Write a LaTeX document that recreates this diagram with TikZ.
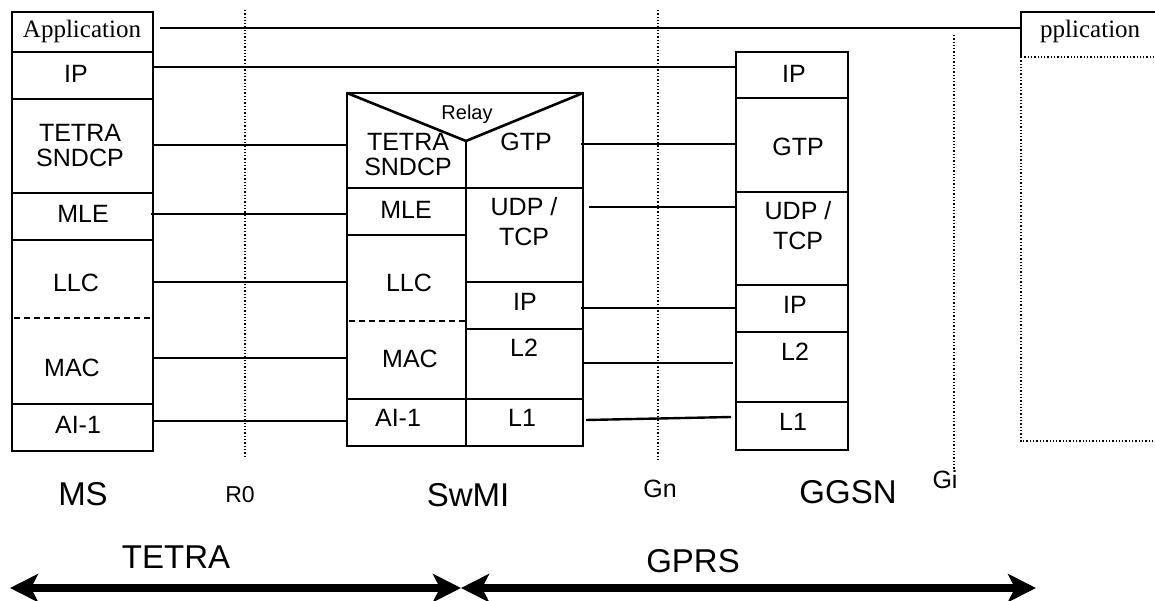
\documentclass[tikz,border=0pt]{standalone}
\usepackage{fontspec}
\setmainfont{Liberation Sans}
\newfontfamily\seriffam{Liberation Serif}
\usetikzlibrary{arrows.meta}
\begin{document}
\begin{tikzpicture}[x=1pt,y=-1pt,
  box/.style={line width=2.6pt},
  sep/.style={line width=2.2pt},
  dsep/.style={dashed, dash pattern=on 6pt off 4pt, line width=1.6pt},
  conn/.style={line width=1.5pt},
  tconn/.style={line width=2.4pt},
  refline/.style={dotted, line width=1.3pt},
  lay/.style={inner sep=0pt, align=center, font=\fontsize{25}{25}\selectfont},
  lay2/.style={inner sep=0pt, align=center, font=\fontsize{25}{30}\selectfont},
  big/.style={inner sep=0pt, font=\fontsize{33}{34}\selectfont},
  small/.style={inner sep=0pt, font=\fontsize{25}{27}\selectfont},
  apptxt/.style={inner sep=0pt, anchor=base, font=\seriffam\fontsize{25}{27}\selectfont},
  span/.style={line width=8pt, {Stealth[length=28pt,width=28pt,inset=7pt]}-{Stealth[length=28pt,width=28pt,inset=7pt]}}
]
\useasboundingbox (0,0) rectangle (1155,601);

% ---------- MS stack ----------
\draw[box] (12,12) rectangle (153,451);
\foreach \yy in {52,99,193,240,404} \draw[sep] (12,\yy) -- (153,\yy);
\draw[dsep] (14,318) -- (151,318);
\node[apptxt] (msapp) at (82,38) {Application};
\node[lay] (msip) at (76,74) {IP};
\node[lay] (mssn) at (80,146) {TETRA\\SNDCP};
\node[lay] (msmle) at (83,214) {MLE};
\node[lay] (msllc) at (76,283) {LLC};
\node[lay] (msmac) at (72,368) {MAC};
\node[lay] (msai) at (78,425) {AI-1};

% ---------- SwMI stack ----------
\draw[box] (347,93) rectangle (583,446);
\draw[box] (347,93) -- (466,141) -- (583,93);
\draw[sep] (466,141) -- (466,446);
\draw[sep] (347,188) -- (583,188);
\draw[sep] (347,235) -- (466,235);
\draw[dsep] (349,321) -- (466,321);
\draw[sep] (347,399) -- (583,399);
\draw[sep] (466,282) -- (583,282);
\draw[box] (466,329) -- (583,329);
\node[inner sep=0pt, anchor=base, font=\fontsize{20}{22}\selectfont] (relay) at (467,120) {Relay};
\node[lay] (swsn) at (408,155) {TETRA\\SNDCP};
\node[lay] (swgtp) at (526,142) {GTP};
\node[lay] (swmle) at (406,210) {MLE};
\node[lay2] (swudp) at (524,222) {UDP /\\TCP};
\node[lay] (swllc) at (409,283) {LLC};
\node[lay] (swmac) at (410,359) {MAC};
\node[lay] (swai) at (398,418) {AI-1};
\node[lay] (swip) at (525,302) {IP};
\node[lay] (swl2) at (524,348) {L2};
\node[lay] (swl1) at (522,418) {L1};

% ---------- GGSN stack ----------
\draw[box] (736,52) rectangle (848,450);
\foreach \yy in {98,192,285,332,402} \draw[sep] (736,\yy) -- (848,\yy);
\node[lay] (ggip) at (794,74) {IP};
\node[lay] (gggtp) at (798,147) {GTP};
\node[lay2] (ggudp) at (798,226) {UDP /\\TCP};
\node[lay] (ggip2) at (795,305) {IP};
\node[lay] (ggl2) at (795,352) {L2};
\node[lay] (ggl1) at (793,422) {L1};

% ---------- right (clipped) application host ----------
\draw[box] (1021,57) -- (1021,12) -- (1162,12);
\draw[refline] (1021,57) -- (1160,57);
\draw[refline] (1021,57) -- (1021,441) -- (1160,441);
\node[inner sep=0pt, anchor=base west, font=\seriffam\fontsize{25}{27}\selectfont] (rapp) at (1040,38) {pplication};

% ---------- reference points ----------
\coordinate (r0t) at (245,10);  \coordinate (r0b) at (245,457);
\coordinate (gnt) at (658,10);  \coordinate (gnb) at (658,460);
\coordinate (git) at (954,35);  \coordinate (gib) at (954,470);
\draw[refline] (r0t) -- (r0b);
\draw[refline] (gnt) -- (gnb);
\draw[refline] (git) -- (gib);

% ---------- peer connectors ----------
\coordinate (a1) at (160,28);  \coordinate (a2) at (1021,28);
\coordinate (b1) at (153,67);  \coordinate (b2) at (736,67);
\coordinate (c1) at (153,145); \coordinate (c2) at (347,145);
\coordinate (d1) at (151,214); \coordinate (d2) at (347,214);
\coordinate (e1) at (153,282); \coordinate (e2) at (347,282);
\coordinate (f1) at (153,358); \coordinate (f2) at (347,358);
\coordinate (g1) at (153,421); \coordinate (g2) at (347,421);
\coordinate (h1) at (581,144); \coordinate (h2) at (736,144);
\coordinate (i1) at (589,207); \coordinate (i2) at (736,207);
\coordinate (j1) at (581,308); \coordinate (j2) at (736,308);
\coordinate (k1) at (583,363); \coordinate (k2) at (733,363);
\coordinate (l1) at (586,420); \coordinate (l2) at (731,417);
\draw[tconn] (a1) -- (a2);
\draw[conn] (b1) -- (b2);
\draw[conn] (c1) -- (c2);
\draw[conn] (d1) -- (d2);
\draw[tconn] (e1) -- (e2);
\draw[conn] (f1) -- (f2);
\draw[conn] (g1) -- (g2);
\draw[conn] (h1) -- (h2);
\draw[tconn] (i1) -- (i2);
\draw[conn] (j1) -- (j2);
\draw[conn] (k1) -- (k2);
\draw[tconn] (l1) -- (l2);

% ---------- labels ----------
\node[big] (lms) at (83,494) {MS};
\node[inner sep=0pt, font=\fontsize{23}{25}\selectfont] (lr0) at (240,495) {R0};
\node[big] (lsw) at (468,495) {SwMI};
\node[small] (lgn) at (660,489) {Gn};
\node[big] (lgg) at (848,492) {GGSN};
\node[small] (lgi) at (945,480) {Gi};
\node[big] (ltetra) at (176,557) {TETRA};
\node[big] (lgprs) at (693,561) {GPRS};

% ---------- span arrows ----------
\coordinate (sl) at (10,588);
\coordinate (sm) at (461,588);
\coordinate (sr) at (1036,588);
\draw[span] (sl) -- (sm);
\draw[span] (sm) -- (sr);
\end{tikzpicture}
\end{document}
